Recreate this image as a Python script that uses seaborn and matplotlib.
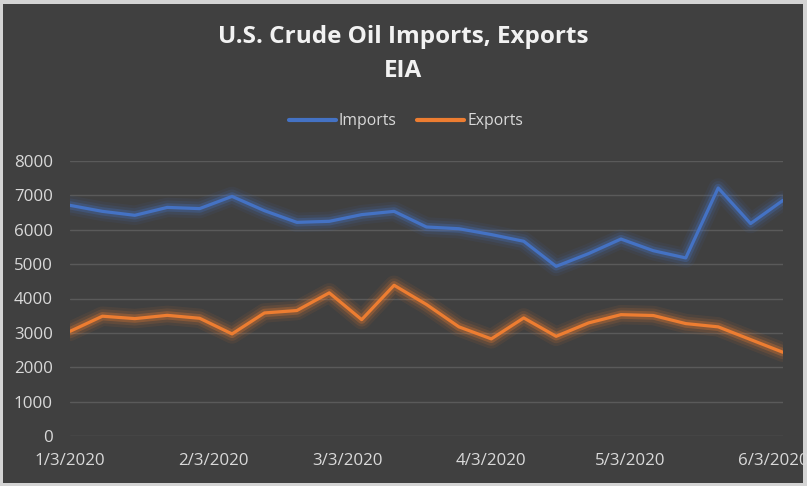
import pandas as pd
import seaborn as sns
import matplotlib.pyplot as plt
import matplotlib.patheffects as pe
from matplotlib.patches import Rectangle

# Weekly data, thousand barrels per day
weeks = pd.date_range('2020-01-03', periods=23, freq='7D')
imports = [6710, 6535, 6420, 6650, 6615, 6970, 6555, 6215, 6245, 6440, 6535, 6080,
           6030, 5860, 5665, 4935, 5305, 5730, 5390, 5180, 7215, 6180, 6855]
exports = [3045, 3485, 3415, 3510, 3425, 2970, 3580, 3650, 4165, 3385, 4385, 3825,
           3175, 2825, 3435, 2900, 3290, 3530, 3505, 3270, 3175, 2805, 2435]
tick_dates = pd.to_datetime(['2020-01-03', '2020-02-03', '2020-03-03',
                             '2020-04-03', '2020-05-03', '2020-06-03'])
y_ticks = list(range(0, 8001, 1000))

df = pd.DataFrame({'Week': list(weeks) * 2,
                   'Value': imports + exports,
                   'Series': ['Imports'] * len(weeks) + ['Exports'] * len(weeks)})

bg = '#404040'
sns.set_theme(style='dark')
plt.rcParams['font.family'] = ['Open Sans', 'DejaVu Sans']

fig = plt.figure(figsize=(8.07, 4.86), dpi=100, facecolor='#d4d4d4')
fig.patches.append(Rectangle((3 / 807, 3 / 486), 1 - 7 / 807, 1 - 7 / 486,
                             transform=fig.transFigure, facecolor=bg,
                             edgecolor='none', zorder=-1))
ax = fig.add_axes([70 / 807, 1 - 436 / 486, 713 / 807, 275 / 486])
ax.set_facecolor(bg)

palette = {'Imports': '#4472C4', 'Exports': '#ED7D31'}
sns.lineplot(data=df, x='Week', y='Value', hue='Series', palette=palette,
             linewidth=2.3, ax=ax, legend=True, zorder=3)

# soft glow around each line
for line in ax.lines:
    c = line.get_color()
    line.set_path_effects([pe.Stroke(linewidth=14, foreground=c, alpha=0.08),
                           pe.Stroke(linewidth=10, foreground=c, alpha=0.13),
                           pe.Stroke(linewidth=6, foreground=c, alpha=0.28),
                           pe.Normal()])

ax.set_xlim(weeks[0], weeks[-1])
ax.set_ylim(0, 8000)
ax.set_yticks(y_ticks)
ax.set_xticks(tick_dates)
ax.set_xticklabels([f'{d.month}/{d.day}/{d.year}' for d in tick_dates])
ax.yaxis.grid(True, color='#5a5a5a', linewidth=1)
ax.xaxis.grid(False)
for s in ax.spines.values():
    s.set_visible(False)
ax.tick_params(axis='y', colors='#d9d9d9', labelsize=12.2, pad=12.5, length=0)
ax.tick_params(axis='x', colors='#d9d9d9', labelsize=12.2, pad=12.5, length=0)
ax.set_xlabel('')
ax.set_ylabel('')

fig.text(0.5, 1 - 37 / 486, 'U.S. Crude Oil Imports, Exports', ha='center', va='center',
         color='#f2f2f2', fontsize=17.5, fontweight='bold')
fig.text(0.5, 1 - 71 / 486, 'EIA', ha='center', va='center',
         color='#f2f2f2', fontsize=17.5, fontweight='bold')

handles, labels = ax.get_legend_handles_labels()
leg = ax.legend(handles, labels, loc='center', bbox_to_anchor=(406 / 807, 1 - 121 / 486),
                bbox_transform=fig.transFigure, ncol=2, frameon=False, fontsize=11.3,
                handlelength=3, handletextpad=0.2, columnspacing=1.3)
for t in leg.get_texts():
    t.set_color('#d9d9d9')
for h in leg.get_lines():
    h.set_linewidth(3)
    h.set_path_effects([])

fig.savefig('out.png', dpi=100, facecolor=fig.get_facecolor())
